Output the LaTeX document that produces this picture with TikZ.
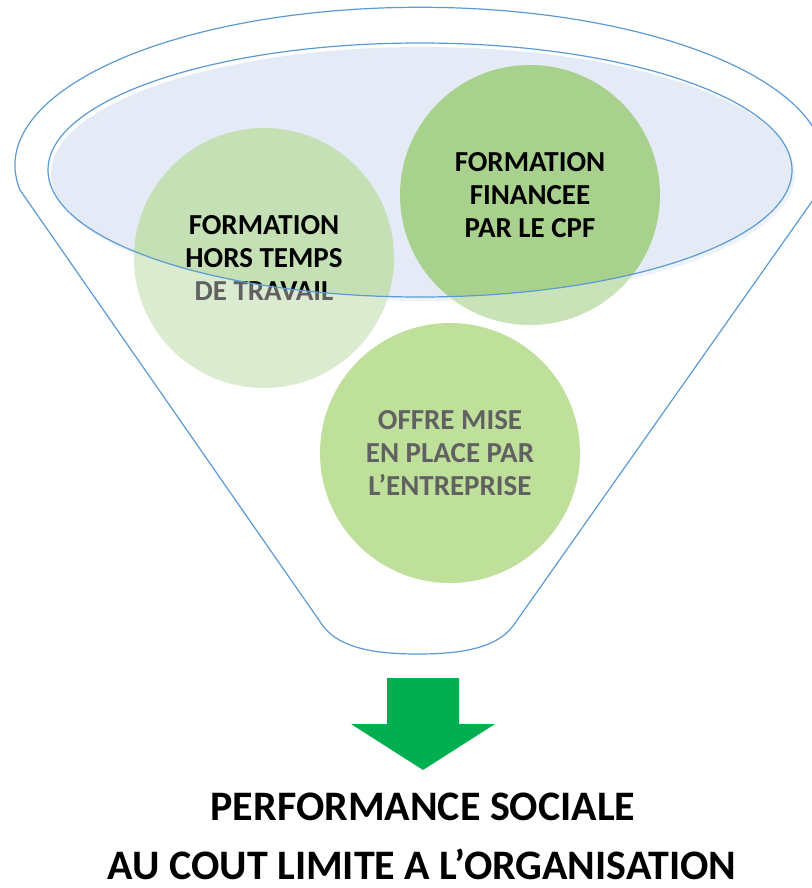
\documentclass[tikz,border=0pt]{standalone}
\usepackage{fontspec}
\setmainfont{Carlito}

\definecolor{funnelblue}{HTML}{5B9BD5}
\definecolor{rimfill}{HTML}{E4EBF6}
\definecolor{greenA}{HTML}{C5E0B4}
\definecolor{greenB}{HTML}{A9D18E}
\definecolor{greenC}{HTML}{99CD5E}
\definecolor{arrowgreen}{HTML}{00B050}

% outline of the funnel (pixel units, y downwards)
\newcommand{\funnelpath}{(20,190) arc[start angle=171, end angle=369, x radius=405, y radius=158]
  -- (513,626) .. controls (495,650) and (455,654) .. (418,654)
  .. controls (381,654) and (341,650) .. (323,626) -- cycle}

\tikzset{
  bubble/.style={circle, minimum size=130pt, inner sep=0pt, align=center,
    font=\bfseries\fontsize{14.5}{16.5}\selectfont},
  caption/.style={anchor=base, font=\bfseries\fontsize{21}{25}\selectfont}
}

\begin{document}
\begin{tikzpicture}[x=0.5pt,y=-0.5pt]
\useasboundingbox (0,0) rectangle (812,888);

% rim of the funnel
\fill[rimfill] (423,174) ellipse [x radius=372, y radius=127];

% the three sources
\node[bubble, fill=greenA] (hors) at (264,258) {FORMATION\\HORS TEMPS\\DE TRAVAIL};
\node[bubble, fill=greenB] (cpf) at (530,195) {FORMATION\\FINANCEE\\PAR LE CPF};
\node[bubble, fill=greenC] (offre) at (450,453) {OFFRE MISE\\EN PLACE PAR\\L’ENTREPRISE};

% veil over the body of the funnel
\fill[white, opacity=.38, even odd rule] \funnelpath (420,170) ellipse [x radius=372, y radius=127];

\draw[funnelblue, line width=.6pt] \funnelpath;
\draw[funnelblue, line width=.6pt] (420,170) ellipse [x radius=372, y radius=127];

% big arrow
\fill[arrowgreen] (387,678) -- (459,678) -- (459,724) -- (495,724) -- (423,770)
  -- (351,724) -- (387,724) -- cycle;

\node[caption] (perf) at (423,820) {PERFORMANCE SOCIALE};
\node[caption] (cout) at (422,879) {AU COUT LIMITE A L’ORGANISATION};

\end{tikzpicture}
\end{document}
